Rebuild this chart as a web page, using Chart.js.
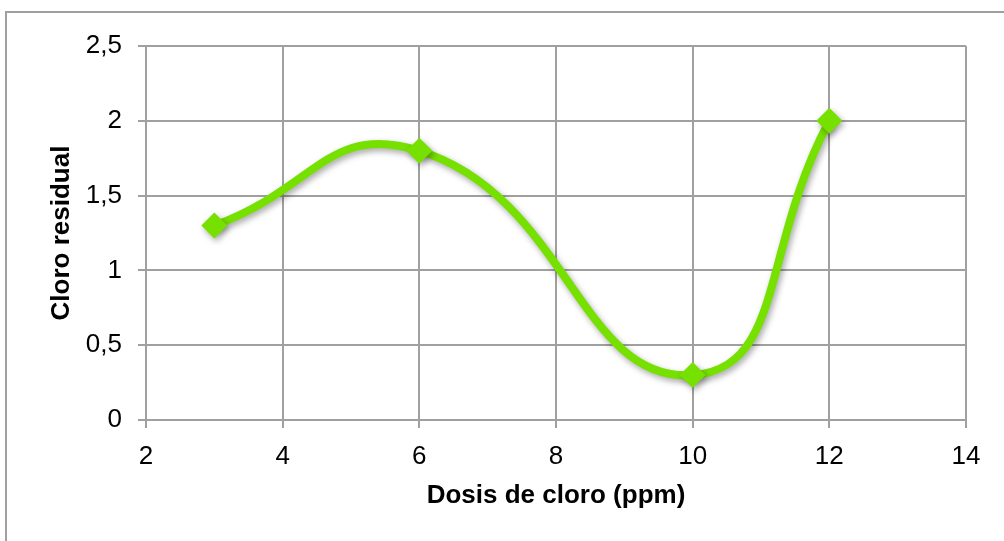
<!DOCTYPE html>
<html>
<head>
<meta charset="utf-8">
<script src="https://cdn.jsdelivr.net/npm/chart.js@4.4.1/dist/chart.umd.min.js"></script>
<style>
  html, body { margin: 0; padding: 0; background: #ffffff; }
  #wrap { position: relative; width: 1004px; height: 541px; overflow: hidden; }
  #frame { position: absolute; left: 5px; top: 11px; width: 1100px; height: 700px;
           border-left: 2px solid #a0a0a0; border-top: 2px solid #a0a0a0; box-sizing: border-box; }
  canvas { position: absolute; left: 0; top: 0; }
</style>
</head>
<body>
<div id="wrap">
  <div id="frame"></div>
  <canvas id="chart" width="1004" height="541"></canvas>
</div>
<script>
// Dosis de cloro aplicada (ppm) y cloro residual medido
const dosis = [3, 6, 10, 12];
const cloroResidual = [1.3, 1.8, 0.3, 2.0];

const xLimits = { min: 2, max: 14, step: 2 };
const yLimits = { min: 0, max: 2.5, step: 0.5 };

const xTitle = 'Dosis de cloro (ppm)';
const yTitle = 'Cloro residual';

const verde = '#76e000';
const gris = '#a0a0a0';
const fuente = "'Liberation Sans', Arial, sans-serif";

const puntos = dosis.map((x, i) => ({ x: x, y: cloroResidual[i] }));

// Soft drop shadow under the series line and markers
const sombra = {
  id: 'sombra',
  beforeDatasetsDraw(chart) {
    const ctx = chart.ctx;
    ctx.save();
    ctx.shadowColor = 'rgba(0,0,0,0.35)';
    ctx.shadowBlur = 6;
    ctx.shadowOffsetX = 2;
    ctx.shadowOffsetY = 3;
  },
  afterDatasetsDraw(chart) {
    chart.ctx.restore();
  }
};

const coma = v => String(v).replace('.', ',');

new Chart(document.getElementById('chart'), {
  type: 'scatter',
  data: {
    datasets: [{
      data: puntos,
      showLine: true,
      tension: 0.5,
      borderColor: verde,
      borderWidth: 8,
      backgroundColor: verde,
      pointStyle: 'rectRot',
      pointRadius: 13,
      pointHoverRadius: 13,
      pointBorderWidth: 0,
      pointBackgroundColor: verde,
      clip: false
    }]
  },
  options: {
    responsive: false,
    animation: false,
    events: [],
    layout: { padding: { left: 0, top: 46, right: 38, bottom: 0 } },
    plugins: { legend: { display: false }, tooltip: { enabled: false } },
    scales: {
      x: {
        type: 'linear',
        min: xLimits.min, max: xLimits.max,
        afterFit(s) { s.height = 121; },
        border: { color: gris, width: 2 },
        grid: { color: gris, lineWidth: 2, tickLength: 8, tickColor: gris },
        ticks: { stepSize: xLimits.step, padding: 13, color: '#000',
                 font: { family: fuente, size: 26 }, callback: coma },
        title: { display: true, text: xTitle, color: '#000',
                 font: { family: fuente, size: 26, weight: 'bold' },
                 padding: { top: 0, bottom: 30 } }
      },
      y: {
        type: 'linear',
        min: yLimits.min, max: yLimits.max,
        afterFit(s) { s.width = 146; },
        border: { color: gris, width: 2 },
        grid: { color: gris, lineWidth: 2, tickLength: 8, tickColor: gris },
        ticks: { stepSize: yLimits.step, padding: 16, color: '#000',
                 font: { family: fuente, size: 26 }, callback: coma },
        title: { display: true, text: yTitle, color: '#000',
                 font: { family: fuente, size: 26, weight: 'bold' },
                 padding: { top: 46, bottom: 0 } }
      }
    }
  },
  plugins: [sombra]
});
</script>
</body>
</html>
